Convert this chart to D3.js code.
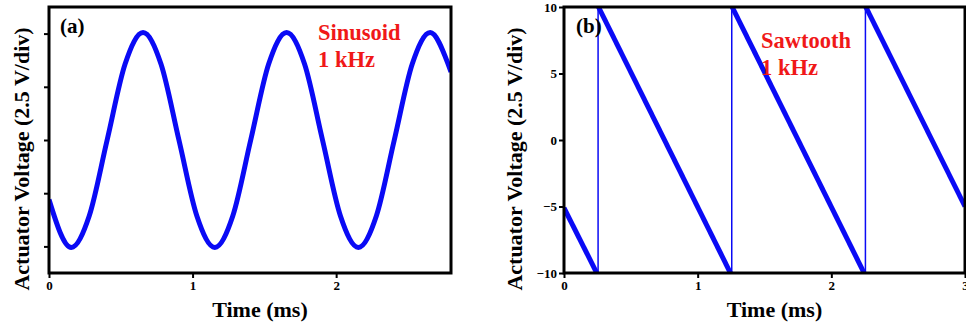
<!DOCTYPE html>
<html>
<head>
<meta charset="utf-8">
<script src="https://cdn.jsdelivr.net/npm/d3@7"></script>
<style>
  body { margin: 0; background: #fff; }
  svg { font-family: "Liberation Serif", "Times New Roman", serif; font-weight: bold; }
</style>
</head>
<body>
<div id="chart"></div>
<script>
// panel (a): sinusoid (V)
var sineTime = [0, 0.155, 0.28, 0.405, 0.53, 0.655, 0.78, 0.905, 1.03, 1.155, 1.28, 1.405, 1.53,
                1.655, 1.78, 1.905, 2.03, 2.155, 2.28, 2.405, 2.53, 2.655, 2.78, 2.8];
var sineVolt = [-2.8, -5.05, -3.57, 0, 3.57, 5.05, 3.57, 0, -3.57, -5.05, -3.57, 0, 3.57,
                5.05, 3.57, 0, -3.57, -5.05, -3.57, 0, 3.57, 5.05, 3.57, 3.2];

// panel (b): sawtooth ramps [tStart, vStart, tEnd, vEnd] and jump times (ms)
var sawRamps = [[0, -5.1, 0.245, -10], [0.258, 10, 1.245, -10], [1.258, 10, 2.245, -10], [2.258, 10, 3, -5.0]];
var sawJumps = [0.255, 1.255, 2.255];

var xTicksA = [0, 1, 2];
var yTicksA = [-5, -2.5, 0, 2.5, 5];
var xTicksB = [0, 1, 2, 3];
var yTicksB = [-10, -5, 0, 5, 10];

var W = 966, H = 325;
var svg = d3.select('#chart').append('svg').attr('width', W).attr('height', H);

function panel(opt) {
  var x = d3.scaleLinear().domain(opt.xDomain).range([opt.left, opt.right]);
  var y = d3.scaleLinear().domain(opt.yDomain).range([opt.bottom, opt.top]);
  var g = svg.append('g');

  g.append('clipPath').attr('id', opt.id + '-clip')
    .append('rect').attr('x', opt.left).attr('y', opt.top)
    .attr('width', opt.right - opt.left).attr('height', opt.bottom - opt.top);

  var xa = g.append('g').attr('transform', 'translate(0,' + opt.bottom + ')')
    .call(d3.axisBottom(x).tickValues(opt.xTicks).tickSize(5).tickPadding(3).tickSizeOuter(0).tickFormat(d3.format('d')));
  var ya = g.append('g').attr('transform', 'translate(' + opt.left + ',0)')
    .call(d3.axisLeft(y).tickValues(opt.yTicks).tickSize(5).tickPadding(2).tickSizeOuter(0)
      .tickFormat(opt.yLabels ? function(d) { return d < 0 ? '\u2212' + Math.abs(d) : d; } : ''));
  [xa, ya].forEach(function(a) {
    a.select('.domain').remove();
    a.selectAll('line').attr('stroke', '#000').attr('stroke-width', 2);
    a.selectAll('text').attr('fill', '#000').style('font-size', '13px').style('font-weight', 'bold')
      .style('font-family', '"Liberation Serif", serif');
  });

  var plot = g.append('g').attr('clip-path', 'url(#' + opt.id + '-clip)');
  opt.draw(plot, x, y);

  g.append('rect').attr('x', opt.left).attr('y', opt.top)
    .attr('width', opt.right - opt.left).attr('height', opt.bottom - opt.top)
    .attr('fill', 'none').attr('stroke', '#000').attr('stroke-width', 3);

  g.append('text').attr('x', (opt.left + opt.right) / 2 + 10).attr('y', 317)
    .attr('text-anchor', 'middle').style('font-size', '22px').text('Time (ms)');
  g.append('text').attr('transform', 'translate(' + opt.titleX + ',159) rotate(-90)')
    .attr('text-anchor', 'middle').style('font-size', '22px').text('Actuator Voltage (2.5 V/div)');
  g.append('text').attr('x', opt.tagX).attr('y', 33).style('font-size', '21px').text(opt.tag);
  opt.note.forEach(function(s, i) {
    g.append('text').attr('x', opt.noteX).attr('y', opt.noteY + i * 27)
      .attr('fill', '#f01818').style('font-size', '22.5px').text(s);
  });
}

panel({
  id: 'a', left: 49, right: 451, top: 7, bottom: 273,
  xDomain: [0, 2.8], yDomain: [-6.25, 6.25], xTicks: xTicksA, yTicks: yTicksA, yLabels: false,
  titleX: 29, tag: '(a)', tagX: 60, note: ['Sinusoid', '1 kHz'], noteX: 318, noteY: 40,
  draw: function(p, x, y) {
    var pts = sineTime.map(function(t, i) { return [t, sineVolt[i]]; });
    p.append('path').datum(pts)
      .attr('d', d3.line().x(function(d) { return x(d[0]); }).y(function(d) { return y(d[1]); }).curve(d3.curveMonotoneX))
      .attr('fill', 'none').attr('stroke', '#0a0af5').attr('stroke-width', 5);
  }
});

panel({
  id: 'b', left: 564, right: 965, top: 7, bottom: 273,
  xDomain: [0, 3], yDomain: [-10, 10], xTicks: xTicksB, yTicks: yTicksB, yLabels: true,
  titleX: 522, tag: '(b)', tagX: 576, note: ['Sawtooth', '1 kHz'], noteX: 761, noteY: 48,
  draw: function(p, x, y) {
    p.selectAll('line.jump').data(sawJumps).enter().append('line').attr('class', 'jump')
      .attr('x1', function(d) { return x(d); }).attr('x2', function(d) { return x(d); })
      .attr('y1', y(-10)).attr('y2', y(10))
      .attr('stroke', '#0a0af5').attr('stroke-width', 1.5);
    p.selectAll('line.ramp').data(sawRamps).enter().append('line').attr('class', 'ramp')
      .attr('x1', function(d) { return x(d[0]); }).attr('y1', function(d) { return y(d[1]); })
      .attr('x2', function(d) { return x(d[2]); }).attr('y2', function(d) { return y(d[3]); })
      .attr('stroke', '#0a0af5').attr('stroke-width', 5);
  }
});
</script>
</body>
</html>
